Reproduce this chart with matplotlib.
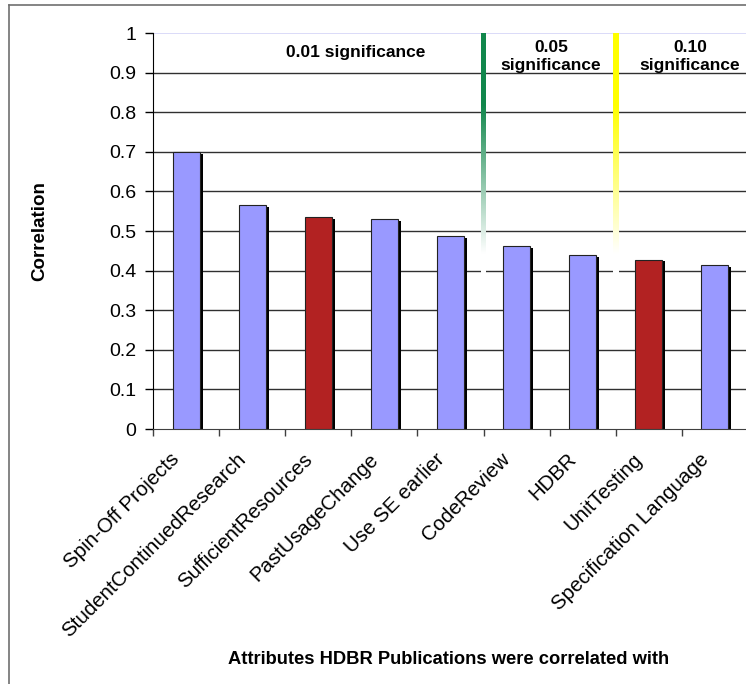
import matplotlib.pyplot as plt
import numpy as np
from matplotlib.lines import Line2D
from matplotlib.transforms import ScaledTranslation

W, H = 746, 684

categories = ["Spin-Off Projects", "StudentContinuedResearch", "SufficientResources",
              "PastUsageChange", "Use SE earlier", "CodeReview", "HDBR",
              "UnitTesting", "Specification Language"]
correlation = [0.70, 0.565, 0.535, 0.53, 0.487, 0.462, 0.44, 0.428, 0.415]
highlight = [False, False, True, False, False, False, False, True, False]

BLUE = "#9999ff"
RED = "#b22222"

plt.rcParams["font.family"] = ["Liberation Sans", "DejaVu Sans"]

fig = plt.figure(figsize=(W / 100, H / 100), dpi=100)
ax = fig.add_axes([153 / W, 1 - 429 / H, 595 / W, 396 / H])

x = np.arange(len(categories))
colors = [RED if h else BLUE for h in highlight]

# drop shadow then bars
ax.bar(x + 0.045, np.array(correlation) - 0.005, width=0.41, color="black", zorder=2)
ax.bar(x, correlation, width=0.41, color=colors, edgecolor="#222222",
       linewidth=0.8, zorder=3)

# grid
for yv in np.arange(0.1, 1.0, 0.1):
    ax.axhline(yv, color="#303030", linewidth=1, zorder=1)
ax.axhline(1.0, color="#d4d4f7", linewidth=1.2, zorder=1)


# significance separators (gradient to white)
def grad_line(xc, top_rgb, halfw):
    t = np.linspace(0, 1, 200)[:, None]  # 0 top -> 1 bottom
    f = np.clip((t - 0.3) / 0.62, 0, 1)
    img = np.array(top_rgb)[None, :] * (1 - f) + f
    ax.imshow(img[:, None, :], extent=[xc - halfw, xc + halfw, 0.395, 1.0],
              aspect="auto", zorder=4, interpolation="bilinear")


grad_line(4.5, (0.07, 0.53, 0.30), 0.037)
grad_line(6.5, (1.0, 1.0, 0.0), 0.045)
ax.set_xlim(-0.5, len(categories) - 0.5)
ax.set_ylim(0, 1)

ax.text(2.56, 0.952, "0.01 significance", ha="center", va="center",
        fontsize=12.5, fontweight="bold")
ax.text(5.52, 0.94, "0.05\nsignificance", ha="center", va="center",
        fontsize=12.5, fontweight="bold", linespacing=1.25)
ax.text(7.62, 0.94, "0.10\nsignificance", ha="center", va="center",
        fontsize=12.5, fontweight="bold", linespacing=1.25)

# axes styling
for s in ["top", "right"]:
    ax.spines[s].set_visible(False)
ax.spines["left"].set_color("black")
ax.spines["bottom"].set_color("#404040")
ax.set_yticks(np.arange(0, 1.01, 0.1))
ax.set_yticklabels(["0", "0.1", "0.2", "0.3", "0.4", "0.5", "0.6", "0.7", "0.8", "0.9", "1"])
ax.tick_params(axis="y", length=6, width=1, labelsize=14, pad=6)

ax.set_xticks(x)
ax.set_xticklabels(categories, rotation=45, ha="right", rotation_mode="anchor",
                   fontsize=14.8)
ax.tick_params(axis="x", which="major", length=0, pad=15)
shift = ScaledTranslation(-16 / 100, 0, fig.dpi_scale_trans)
for lbl in ax.get_xticklabels():
    lbl.set_transform(lbl.get_transform() + shift)
ax.set_xticks(np.arange(-0.5, len(categories) + 0.5, 1), minor=True)
ax.tick_params(axis="x", which="minor", length=5, width=1, color="#404040")

fig.text(40 / W, 1 - 231 / H, "Correlation", rotation=90, ha="center", va="center",
         fontsize=13.5, fontweight="bold")
fig.text(449 / W, 1 - 660 / H, "Attributes HDBR Publications were correlated with",
         ha="center", va="center", fontsize=13.2, fontweight="bold")

# chart frame (only top and left visible in the crop)
fig.add_artist(Line2D([9 / W, 9 / W], [0, 1 - 5 / H], color="#707070", linewidth=1.2))
fig.add_artist(Line2D([9 / W, 1], [1 - 5 / H, 1 - 5 / H], color="#707070", linewidth=1.2))

fig.savefig("out.png", dpi=100)
